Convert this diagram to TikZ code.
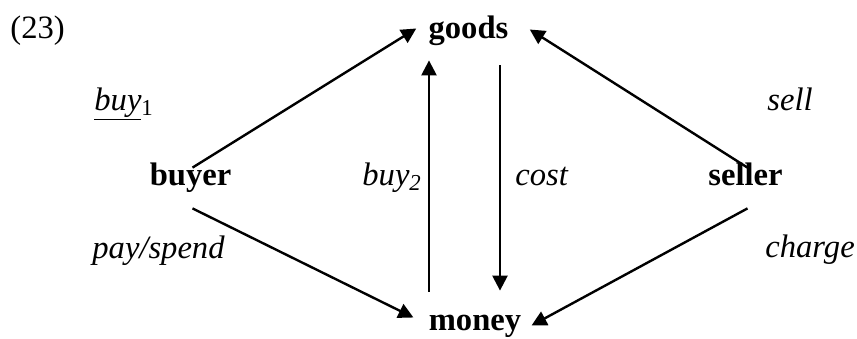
\documentclass[tikz,border=0pt]{standalone}
\usepackage{fontspec}
\setmainfont{Liberation Serif}
\usetikzlibrary{calc,arrows.meta,positioning}
\newcommand{\dgsize}{\fontsize{16.3}{19.5}\selectfont}

\begin{document}
\begin{tikzpicture}[x=0.5pt,y=-0.5pt,
  term/.style={font=\dgsize\bfseries,inner sep=0pt,text height=0.7em,text depth=0.25em,anchor=base},
  lbl/.style={font=\dgsize\itshape,inner sep=0pt,anchor=base west},
  arr/.style={-{Triangle[length=7.5pt,width=7.5pt]},line width=1.2pt}]
\useasboundingbox (0,0) rectangle (857,338);

\node[font=\dgsize,inner sep=0pt,anchor=base west] (num) at (10,38) {(23)};

\node[term] (goods) at (468.5,38) {goods};
\node[term] (money) at (475,330) {money};
\node[term] (buyer) at (190.5,185) {buyer};
\node[term] (seller) at (745.5,185) {seller};

\node[lbl] (buyone) at (94,110) {\underline{buy}\textsubscript{\upshape 1}};
\node[lbl] (sell) at (767,110) {sell};
\node[lbl] (pay) at (92,258) {pay/spend};
\node[lbl] (charge) at (765,257) {charge};
\node[lbl] (buytwo) at (362,185) {buy\textsubscript{2}};
\node[lbl] (cost) at (515,185) {cost};

\draw[arr] ($(buyer.north)+(2,-3)$) -- ($(goods.west)+(-12,-5)$);
\draw[arr] ($(seller.north)+(2,-3)$) -- ($(goods.east)+(21,-4)$);
\draw[arr] ($(buyer.south)+(2,18)$) -- ($(money.west)+(-15,-8)$);
\draw[arr] ($(seller.south)+(2,18)$) -- ($(money.east)+(10,0)$);
\draw[arr] ($(money.north)+(-46,-24)$) -- ($(goods.south)+(-39.5,17)$);
\draw[arr] ($(goods.south)+(31.5,22)$) -- ($(money.north)+(25,-25)$);
\end{tikzpicture}
\end{document}
